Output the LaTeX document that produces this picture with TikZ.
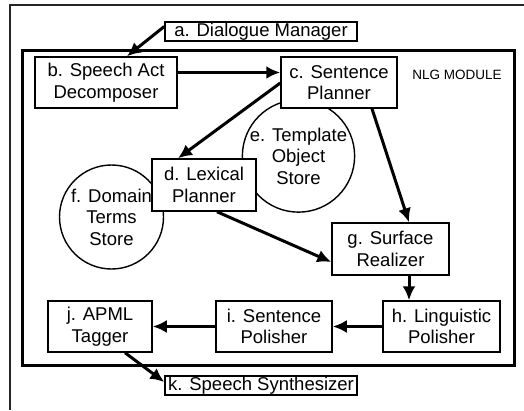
\documentclass[tikz,border=0pt]{standalone}
\usepackage{fontspec}
\setmainfont{Liberation Sans}
\usetikzlibrary{arrows.meta,calc}
\begin{document}
\begin{tikzpicture}[x=1pt,y=-1pt,
  box/.style={draw,line width=1.5pt,fill=white,inner sep=0pt,align=center,
    font=\fontsize{18.5}{21.5}\selectfont},
  store/.style={draw,circle,line width=1.4pt,fill=white,inner sep=0pt,align=center,
    font=\fontsize{18.5}{21.5}\selectfont},
  flow/.style={line width=3pt,-{Latex[length=14pt,width=13pt]}},
  frame/.style={line width=1.5pt,black!85},
  module/.style={line width=3pt}]
\useasboundingbox (0,0) rectangle (524,410);
% outer frame
\draw[frame] (10,410) -- (10,5) -- (524,5);
% NLG module
\draw[module] (22,50) rectangle (514,365);
\node[font=\fontsize{13.5}{15}\selectfont] (lbl) at (457,75) {NLG MODULE};
% stores
\node[store,minimum size=112pt] (e) at (298.5,156) {e. Template\\Object\\Store};
\node[store,minimum size=104pt] (f) at (111.5,217) {f. Domain\\Terms\\Store};
% boxes
\node[box,minimum width=192pt,minimum height=19pt] (a) at (261,31.5) {a. Dialogue Manager};
\node[box,minimum width=142pt,minimum height=51pt] (b) at (106,82.5) {b. Speech Act\\Decomposer};
\node[box,minimum width=116pt,minimum height=51pt] (c) at (339,82.5) {c. Sentence\\Planner};
\node[box,minimum width=104pt,minimum height=52pt] (d) at (204,185) {d. Lexical\\Planner};
\node[box,minimum width=117pt,minimum height=52pt] (g) at (390.5,249) {g. Surface\\Realizer};
\node[box,minimum width=117pt,minimum height=51pt] (h) at (441.5,326.5) {h. Linguistic\\Polisher};
\node[box,minimum width=116pt,minimum height=51pt] (i) at (274,326.5) {i. Sentence\\Polisher};
\node[box,minimum width=104pt,minimum height=51pt] (j) at (100,326.5) {j. APML\\Tagger};
\node[box,minimum width=192pt,minimum height=19pt] (k) at (261,385.5) {k. Speech Synthesizer};
% connectors
\draw[flow] ([yshift=5pt]a.west) -- ([xshift=21pt]b.north);
\draw[flow] ([yshift=10pt]b.east) -- ([yshift=10pt]c.west);
\draw[flow] ([yshift=-0.5pt]c.west) -- ([xshift=-26pt]d.north);
\draw[flow] ([xshift=33pt]c.south) -- ([xshift=18.5pt]g.north);
\draw[flow] ([xshift=13pt]d.south) -- ([yshift=-13pt]g.west);
\draw[flow] ([xshift=18.5pt]g.south) -- ([xshift=18.5pt]g.south |- h.north);
\draw[flow] (h.west) -- (i.east);
\draw[flow] (i.west) -- (j.east);
\draw[flow] ([xshift=25pt]j.south) -- ([yshift=3.5pt]k.west);
\end{tikzpicture}
\end{document}
